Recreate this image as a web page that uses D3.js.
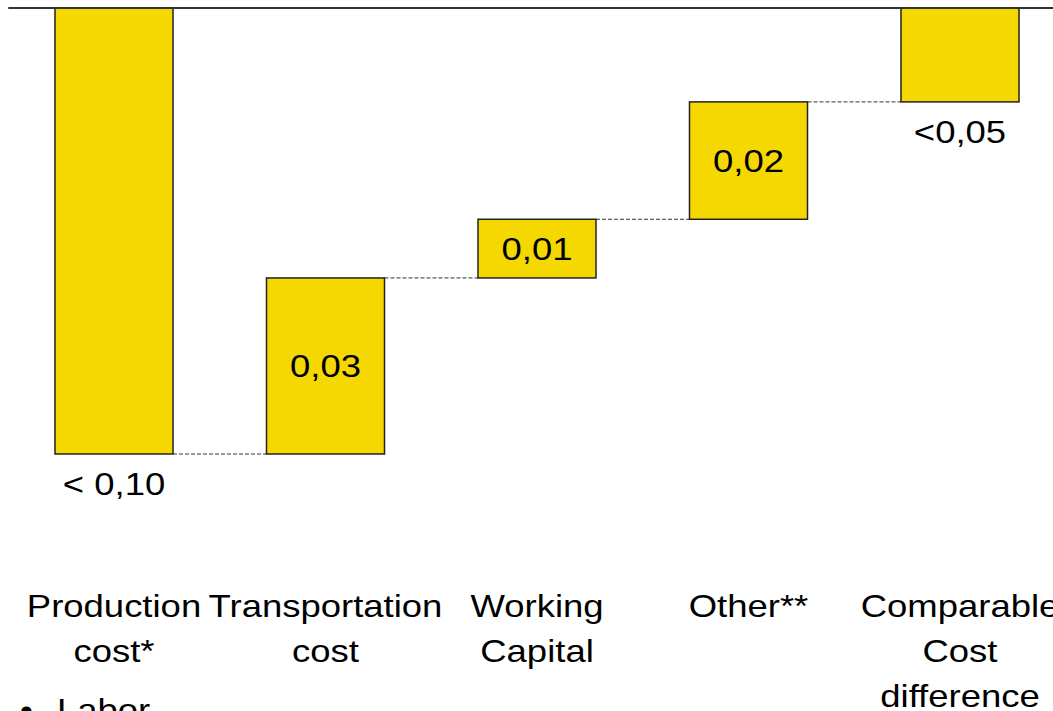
<!DOCTYPE html>
<html>
<head>
<meta charset="utf-8">
<script src="https://cdn.jsdelivr.net/npm/d3@7"></script>
<style>
  html, body { margin: 0; padding: 0; background: #fff; overflow: hidden; }
  svg { display: block; }
  text { font-family: Arial, "Liberation Sans", sans-serif; fill: #000; }
</style>
</head>
<body>
<svg id="chart" width="1053" height="711"></svg>
<script>
// Cost bridge: production cost down, then the add-backs, ending at the comparable difference
const categories = ["Production\ncost*", "Transportation\ncost", "Working\nCapital", "Other**", "Comparable\nCost\ndifference"];
const steps = [-0.076, 0.03, 0.01, 0.02, 0.016];   // change contributed by each step
const valueLabels = ["< 0,10", "0,03", "0,01", "0,02", "<0,05"];
const labelPlacement = ["below", "inside", "inside", "inside", "below"];
const bullets = ["Labor"];

const W = 1053, H = 711;
const svg = d3.select("#chart");

// running totals -> start/end of each floating bar
let run = 0;
const bars = categories.map((c, i) => {
  const start = run;
  run += steps[i];
  return { cat: c, start, end: run, label: valueLabels[i], place: labelPlacement[i] };
});
const minVal = d3.min(bars, d => Math.min(d.start, d.end));

const x = d3.scaleBand().domain(categories).range([8.25, 1065.75]).paddingInner(0.442).paddingOuter(0.221);
const y = d3.scaleLinear().domain([minVal, 0]).range([454, 8]);

const gold = "#F5D800";
const stretch = 1.14;   // slightly wide lettering

function wideText(sel, px, py) {
  sel.attr("transform", `translate(${px},${py}) scale(${stretch},1)`);
}

// dashed connectors between consecutive bars
for (let i = 0; i < bars.length - 1; i++) {
  const lvl = bars[i].end;
  svg.append("line")
    .attr("x1", x(bars[i].cat) + x.bandwidth())
    .attr("x2", x(bars[i + 1].cat))
    .attr("y1", y(lvl)).attr("y2", y(lvl))
    .attr("stroke", "#333").attr("stroke-width", 1)
    .attr("stroke-dasharray", "4,2");
}

// bars
svg.selectAll("rect.bar").data(bars).enter().append("rect")
  .attr("class", "bar")
  .attr("x", d => x(d.cat))
  .attr("width", x.bandwidth())
  .attr("y", d => y(Math.max(d.start, d.end)))
  .attr("height", d => Math.abs(y(d.start) - y(d.end)))
  .attr("fill", gold)
  .attr("stroke", "#222")
  .attr("stroke-width", 1.5);

// zero baseline across the top
svg.append("line")
  .attr("x1", x.range()[0]).attr("x2", W)
  .attr("y1", y(0)).attr("y2", y(0))
  .attr("stroke", "#333").attr("stroke-width", 2);

// value labels
bars.forEach(d => {
  const cx = x(d.cat) + x.bandwidth() / 2;
  const top = y(Math.max(d.start, d.end));
  const bot = y(Math.min(d.start, d.end));
  const ty = d.place === "inside" ? (top + bot) / 2 + 11.5 : bot + 41;
  svg.append("text")
    .attr("text-anchor", "middle")
    .style("font-size", "32px")
    .text(d.label)
    .call(wideText, cx, ty);
});

// category labels
categories.forEach(c => {
  const cx = x(c) + x.bandwidth() / 2;
  c.split("\n").forEach((line, j) => {
    svg.append("text")
      .attr("text-anchor", "middle")
      .style("font-size", "32px")
      .text(line)
      .call(wideText, cx, 617 + j * 45);
  });
});

// bullet list under the first category
bullets.forEach((b, j) => {
  svg.append("text")
    .style("font-size", "32px")
    .text("\u2022")
    .call(wideText, 20, 721 + j * 45);
  svg.append("text")
    .style("font-size", "32px")
    .text(b)
    .call(wideText, 57, 721 + j * 45);
});
</script>
</body>
</html>
